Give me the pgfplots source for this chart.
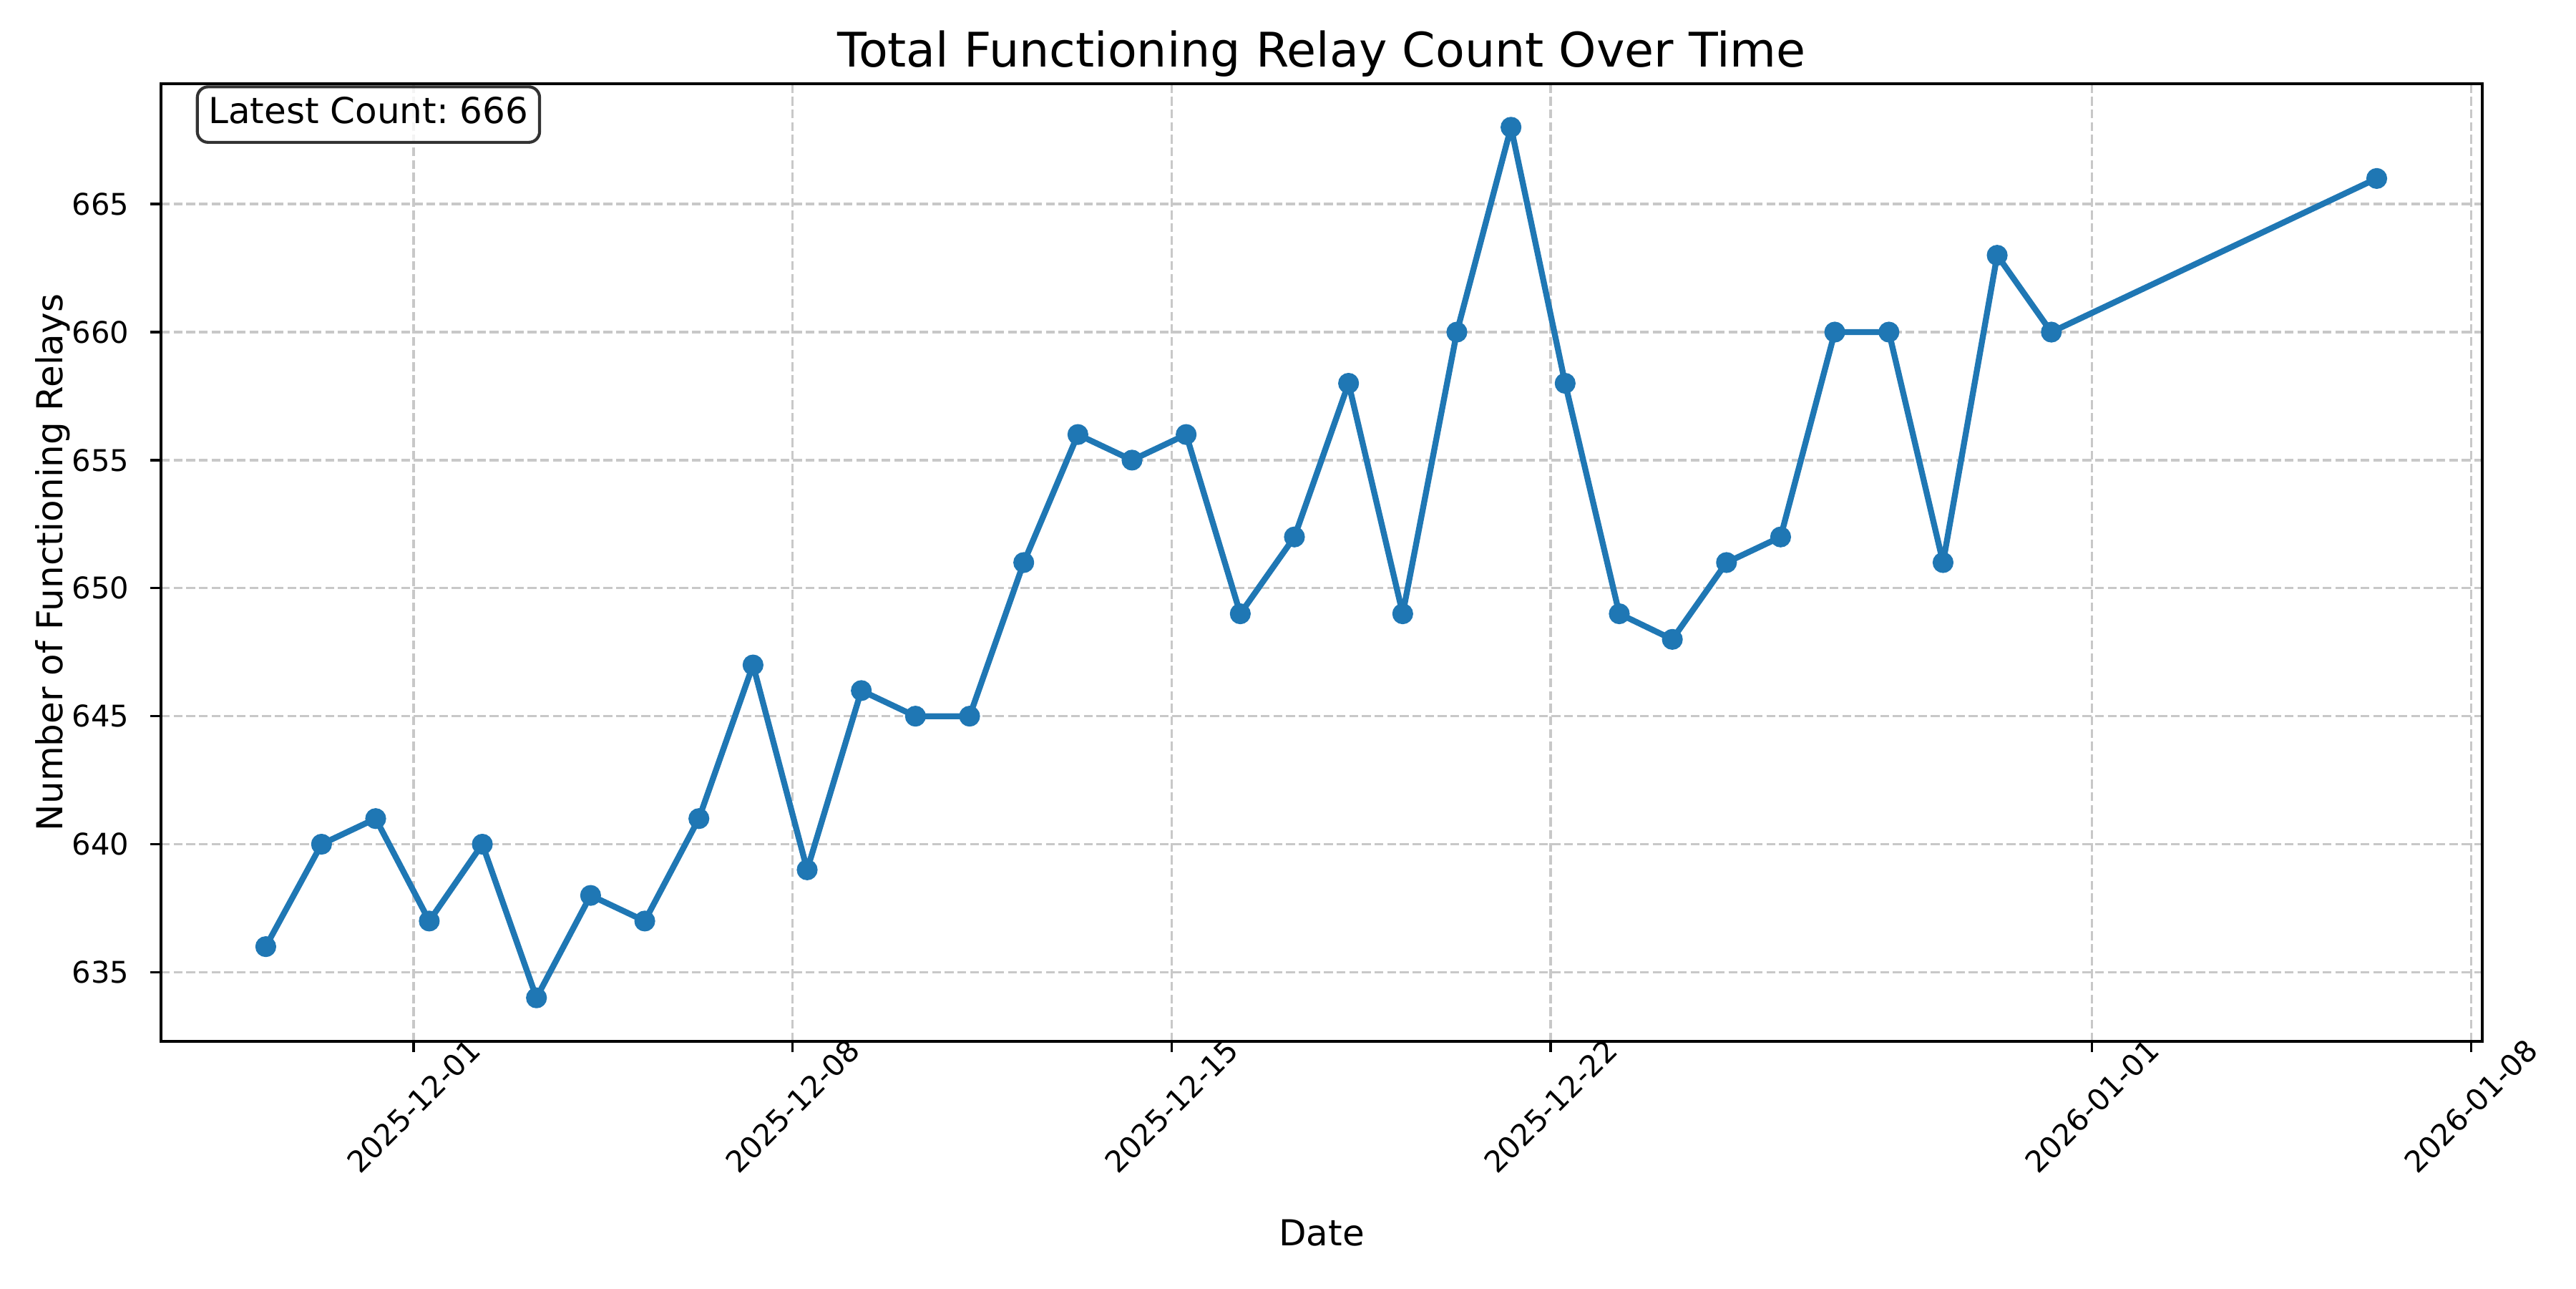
\documentclass[border=0pt]{standalone}
\usepackage{fontspec}
\setmainfont{DejaVu Sans}
\usepackage{pgfplots}
\pgfplotsset{compat=1.18}
\frenchspacing
\definecolor{c1}{HTML}{1F77B4}
\definecolor{gridc}{HTML}{C8C8C8}
\definecolor{boxedge}{HTML}{333333}
\begin{document}
\frenchspacing
\begin{tikzpicture}
\useasboundingbox (-54pt,-82.8pt) rectangle (810pt,349.2pt);
\begin{axis}[
  at={(0pt,0pt)}, anchor=south west,
  scale only axis, width=778.56pt, height=321.12pt,
  xmin=-4.665, xmax=38.21, ymin=632.3, ymax=669.7,
  axis line style={line width=0.8pt, black},
  every tick/.style={line width=0.8pt, black},
  tick align=outside, major tick length=3.5pt,
  xtick pos=left, ytick pos=left,
  xtick={0,7,14,21,31,38},
  xticklabels={2025-12-01,2025-12-08,2025-12-15,2025-12-22,2026-01-01,2026-01-08},
  xticklabel style={font=\fontsize{10}{12}\selectfont, yshift=-18.2pt, rotate=45, anchor=center, inner sep=0pt},
  ytick={635,640,...,665},
  yticklabel style={font=\fontsize{10}{12}\selectfont, anchor=east, inner sep=0pt, xshift=-7pt},
  /pgf/number format/assume math mode=true,
  grid=major,
  major grid style={gridc, line width=0.8pt, dash pattern=on 2.96pt off 1.28pt},
]
\addplot[c1, line width=2pt, line join=round, mark=*, mark size=3pt, mark options={solid, fill=c1, draw=c1, line width=1pt}] coordinates {
(-2.73,636) (-1.70,640) (-0.70,641) (0.29,637) (1.27,640) (2.27,634) (3.27,638) (4.27,637)
(5.27,641) (6.27,647) (7.27,639) (8.27,646) (9.27,645) (10.27,645) (11.27,651) (12.27,656)
(13.27,655) (14.27,656) (15.27,649) (16.27,652) (17.27,658) (18.27,649) (19.27,660) (20.27,668)
(21.27,658) (22.27,649) (23.25,648) (24.25,651) (25.25,652) (26.25,660) (27.25,660) (28.25,651)
(29.25,663) (30.25,660) (36.26,666)
};
\node[anchor=north west, draw=boxedge, line width=1pt, rounded corners=3.6pt, fill=white, fill opacity=0.8, text opacity=1, inner xsep=3.75pt, inner ysep=0pt, text height=12.3pt, text depth=6.3pt, font=\fontsize{12}{14}\selectfont] at (rel axis cs:0.015,0.9983) {Latest Count: 666};
\end{axis}
\node[anchor=base, font=\fontsize{16}{19}\selectfont, inner sep=0pt] at (389.28pt,326.8pt) {Total Functioning Relay Count Over Time};
\node[anchor=base, font=\fontsize{12}{14}\selectfont, inner sep=0pt] at (389.28pt,-68.6pt) {Date};
\node[anchor=base, rotate=90, font=\fontsize{12}{14}\selectfont, inner sep=0pt] at (-32.9pt,160.56pt) {Number of Functioning Relays};
\end{tikzpicture}
\end{document}
